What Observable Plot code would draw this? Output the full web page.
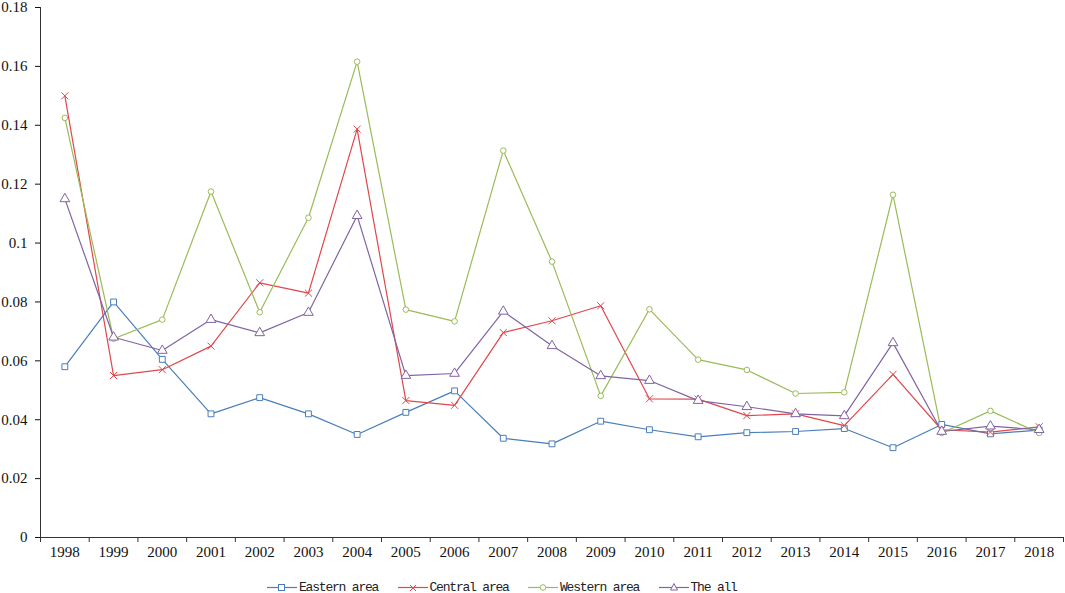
<!DOCTYPE html>
<html>
<head>
<meta charset="utf-8">
<script src="https://cdn.jsdelivr.net/npm/d3@7"></script>
<script src="https://cdn.jsdelivr.net/npm/@observablehq/plot@0.6"></script>
<style>
  html, body { margin: 0; padding: 0; background: #fff; }
  #chart svg { display: block; }
  #legend { position: relative; height: 18px; font-family: "Liberation Mono", monospace; font-size: 13px; letter-spacing: -1.2px; color: #222; }
  .item { position: absolute; top: 3px; height: 18px; display: flex; align-items: center; white-space: nowrap; }
  .item svg { margin-right: 2px; }
</style>
</head>
<body>
<div id="chart"></div>
<div id="legend"></div>
<script>
const years = [1998,1999,2000,2001,2002,2003,2004,2005,2006,2007,2008,2009,2010,2011,2012,2013,2014,2015,2016,2017,2018];
const eastern = [0.058,0.080,0.0605,0.042,0.0475,0.042,0.035,0.0425,0.0498,0.0337,0.0318,0.0395,0.0366,0.0342,0.0356,0.036,0.037,0.0305,0.0384,0.0352,0.0365];
const central = [0.150,0.055,0.057,0.065,0.0865,0.083,0.1387,0.0465,0.0449,0.0696,0.0736,0.0787,0.0471,0.047,0.0414,0.042,0.038,0.0554,0.0366,0.0358,0.0376];
const western = [0.1425,0.0675,0.074,0.1175,0.0765,0.1086,0.1616,0.0774,0.0734,0.1314,0.0937,0.0481,0.0775,0.0604,0.0569,0.0489,0.0493,0.1164,0.0355,0.043,0.0355];
const theAll  = [0.115,0.068,0.0635,0.074,0.0695,0.0764,0.1093,0.055,0.0557,0.0768,0.0651,0.0549,0.0533,0.0465,0.0444,0.042,0.0413,0.0661,0.036,0.0378,0.0366];
const seriesNames = ["Eastern area","Central area","Western area","The all"];
const seriesColors = ["#4a7ebb","#e0474c","#9bbb59","#8064a2"];
const seriesSymbols = ["square","times","circle","triangle"];
const seriesR = [3.3,3.3,2.8,3.6];
const yTicks = [0,0.02,0.04,0.06,0.08,0.1,0.12,0.14,0.16,0.18];
const xBoundaries = [...years.map(y => y - 0.5), years[years.length-1] + 0.5];

const allValues = [eastern, central, western, theAll];
const data = [];
allValues.forEach((vals, si) => {
  vals.forEach((v, i) => data.push({series: seriesNames[si], year: years[i], value: v}));
});

const marks = [
  Plot.frame({anchor: "left", stroke: "#333"}),
  Plot.frame({anchor: "bottom", stroke: "#333"}),
  Plot.axisY({ticks: yTicks, tickSize: 5, tickPadding: 8, label: null, tickFormat: d => String(+d.toFixed(2)), fontSize: 15, fontFamily: "Liberation Serif", color: "#111"}),
  Plot.axisX({ticks: xBoundaries, tickSize: 5, label: null, tickFormat: () => "", stroke: "#333"}),
  Plot.axisX({ticks: years, tickSize: 0, tickPadding: 9, label: null, tickFormat: d => String(d), fontSize: 15, fontFamily: "Liberation Serif", color: "#111"})
];
seriesNames.forEach((name, si) => {
  const sd = data.filter(d => d.series === name);
  marks.push(Plot.line(sd, {x: "year", y: "value", stroke: seriesColors[si], strokeWidth: 1.2}));
});
seriesNames.forEach((name, si) => {
  const sd = data.filter(d => d.series === name);
  marks.push(Plot.dot(sd, {x: "year", y: "value", symbol: () => seriesSymbols[si], r: seriesR[si], stroke: seriesColors[si], fill: seriesSymbols[si] === "times" ? "none" : "white", strokeWidth: 1}));
});

const chart = Plot.plot({
  width: 1065,
  height: 575,
  marginLeft: 40,
  marginRight: 2,
  marginTop: 7,
  marginBottom: 38,
  x: {type: "linear", domain: [years[0] - 0.5, years[years.length-1] + 0.5], axis: null},
  y: {domain: [0, 0.18], axis: null},
  symbol: {type: "identity"},
  style: {background: "#fff", overflow: "visible"},
  marks
});
document.getElementById("chart").appendChild(chart);

// legend
const legend = document.getElementById("legend");
const symPath = {
  square: '<rect x="11.5" y="5.5" width="6" height="6" fill="white" stroke="COL"/>',
  times: '<path d="M12 6 L18 12 M18 6 L12 12" stroke="COL" fill="none"/>',
  circle: '<circle cx="15" cy="8.5" r="2.8" fill="white" stroke="COL"/>',
  triangle: '<path d="M15 4.5 L18.5 11 L11.5 11 Z" fill="white" stroke="COL"/>'
};
seriesNames.forEach((name, si) => {
  const div = document.createElement("div");
  div.className = "item";
  div.style.left = (267 + si * 130.5) + "px";
  const col = seriesColors[si];
  div.innerHTML = '<svg width="30" height="17"><line x1="0" x2="30" y1="8.5" y2="8.5" stroke="' + col + '" stroke-width="1.2"/>' +
    symPath[seriesSymbols[si]].replace("COL", col) + '</svg><span>' + name + '</span>';
  legend.appendChild(div);
});
</script>
</body>
</html>
